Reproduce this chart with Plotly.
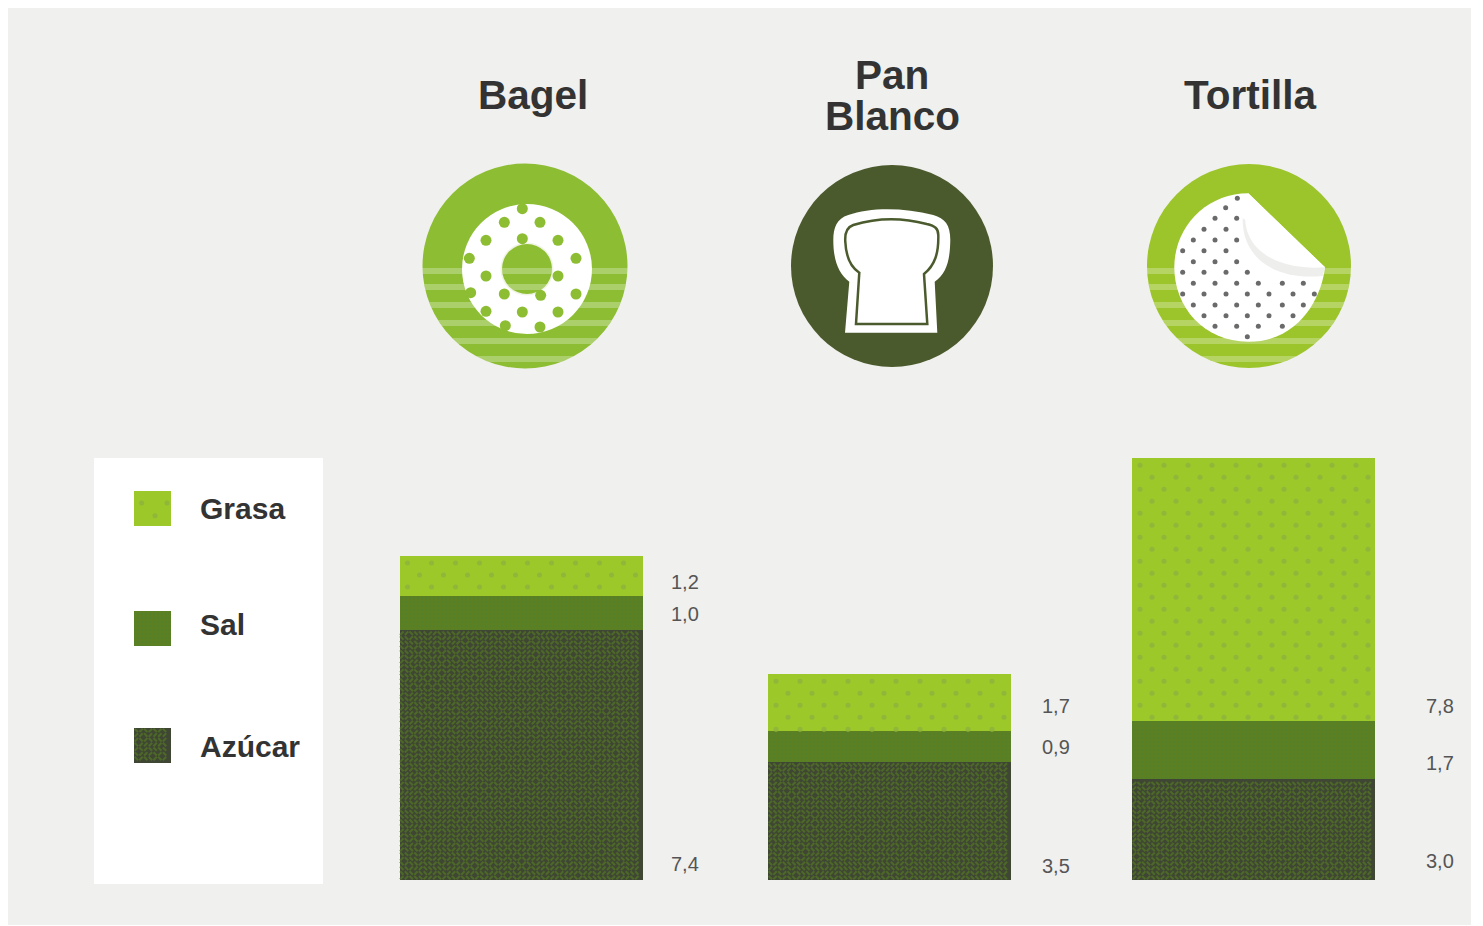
import math
import plotly.graph_objects as go

# Data
products = ["Bagel", "Pan Blanco", "Tortilla"]
azucar = [7.4, 3.5, 3.0]
sal = [1.0, 0.9, 1.7]
grasa = [1.2, 1.7, 7.8]
legend_labels = ["Grasa", "Sal", "Azúcar"]

# Page geometry, in pixels
W, H = 1483, 926
BASELINE = 880
PX_PER_UNIT = 33.76
BAR_CENTRES = [521, 889.5, 1253.5]
BAR_WIDTH = 243

GRASA_C, SAL_C, AZUCAR_C = "#9dc82a", "#5c7f22", "#3f4634"
GRASA_DOT, AZUCAR_WORM = "#90b63a", "#4d6829"
FONT = "Liberation Sans"
TEXT = "#333333"

sal_pat = dict(shape=".", size=4, solidity=0.3, fgcolor="#54802a", bgcolor=SAL_C, fillmode="replace")

fig = go.Figure()

# Stacked bars on the value axis
for name, vals, col, pat in [
    ("Azúcar", azucar, AZUCAR_C, None),
    ("Sal", sal, SAL_C, sal_pat),
    ("Grasa", grasa, GRASA_C, None),
]:
    marker = dict(color=col, line_width=0)
    if pat:
        marker["pattern"] = pat
    fig.add_trace(go.Bar(x=BAR_CENTRES, y=vals, name=name, width=BAR_WIDTH,
                         marker=marker, hovertext=products, showlegend=False))

# Legend swatches, on the pixel axis y2
SWATCH_W, SWATCH_H = 37, 34.5
swatch_tops = [491, 611, 728]
for i, (name, col, top) in enumerate(zip(legend_labels, [GRASA_C, SAL_C, AZUCAR_C], swatch_tops)):
    marker = dict(color=col, line_width=0)
    if name == "Sal":
        marker["pattern"] = sal_pat
    fig.add_trace(go.Bar(x=[152.5 + i * 0.01], y=[SWATCH_H], base=[top], width=SWATCH_W, yaxis="y2",
                         name=name, marker=marker, showlegend=False))


def worm_tile(i, j):
    # Deterministic choice of diagonal for one cell of the maze fill
    return int(abs(math.sin(i * 12.9898 + j * 78.233)) * 43758.5453) % 2


def maze(x0, x1, y0, y1, cell_x, cell_y, trim=0.14):
    # Short broken diagonals, one per cell, that read as a wormy texture
    xs, ys = [], []
    nx, ny = int((x1 - x0) / cell_x), int((y1 - y0) / cell_y)
    for i in range(nx):
        for j in range(ny):
            ax, bx = x0 + (i + trim) * cell_x, x0 + (i + 1 - trim) * cell_x
            ay, by = y0 + (j + trim) * cell_y, y0 + (j + 1 - trim) * cell_y
            if worm_tile(i + int(x0), j + int(abs(y0))):
                ay, by = by, ay
            xs += [ax, bx, None]
            ys += [ay, by, None]
    return xs, ys


CELL = 4.7
WORM_W = 2.1
worm_x, worm_y = [], []
for c, v in zip(BAR_CENTRES, azucar):
    a, b = maze(c - BAR_WIDTH / 2, c + BAR_WIDTH / 2, 0.0, v, CELL, CELL / PX_PER_UNIT)
    worm_x += a
    worm_y += b
fig.add_trace(go.Scatter(x=worm_x, y=worm_y, mode="lines", hoverinfo="skip", showlegend=False,
                         line=dict(color=AZUCAR_WORM, width=WORM_W)))
a, b = maze(134, 134 + SWATCH_W, swatch_tops[2], swatch_tops[2] + SWATCH_H, CELL, CELL)
fig.add_trace(go.Scatter(x=a, y=b, yaxis="y2", mode="lines", hoverinfo="skip", showlegend=False,
                         line=dict(color=AZUCAR_WORM, width=WORM_W)))

# Staggered speckle on the fat segments
DOT_DX, DOT_DY = 24, 12
dot_x, dot_y = [], []
for c, base, top in zip(BAR_CENTRES, [a_ + s for a_, s in zip(azucar, sal)], grasa):
    left = c - BAR_WIDTH / 2
    row = 0
    y_px = DOT_DY * 0.6
    while y_px < top * PX_PER_UNIT:
        x_px = 8 + (DOT_DX / 2 if row % 2 else 0)
        while x_px < BAR_WIDTH - 3:
            dot_x.append(left + x_px)
            dot_y.append(base + top - y_px / PX_PER_UNIT)
            x_px += DOT_DX
        row += 1
        y_px += DOT_DY
fig.add_trace(go.Scatter(x=dot_x, y=dot_y, mode="markers", hoverinfo="skip", showlegend=False,
                         marker=dict(size=5, color=GRASA_DOT)))
fig.add_trace(go.Scatter(x=[141.7, 167, 155], y=[503, 503, 515.7], yaxis="y2", mode="markers", hoverinfo="skip",
                         showlegend=False, marker=dict(size=5, color=GRASA_DOT)))

shapes = []


def rect(x0, y0, x1, y1, color):
    shapes.append(dict(type="rect", xref="x", yref="y2", x0=x0, y0=y0, x1=x1, y1=y1,
                       fillcolor=color, line_width=0, layer="below"))


def disc(cx, cy, r, color):
    shapes.append(dict(type="circle", xref="x", yref="y2", x0=cx - r, y0=cy - r, x1=cx + r, y1=cy + r,
                       fillcolor=color, line_width=0, layer="below"))


def outline(d, color, stroke=None, stroke_w=0):
    shapes.append(dict(type="path", xref="x", yref="y2", path=d, fillcolor=color,
                       line=dict(color=stroke or color, width=stroke_w), layer="below"))


def band(cx, cy, r, y0, y1):
    # Horizontal pale strip clipped to a circle
    pts = []
    n = 12
    for k in range(n + 1):
        y = y0 + (y1 - y0) * k / n
        pts.append((cx + math.sqrt(max(r * r - (y - cy) ** 2, 0)), y))
    for k in range(n, -1, -1):
        y = y0 + (y1 - y0) * k / n
        pts.append((cx - math.sqrt(max(r * r - (y - cy) ** 2, 0)), y))
    d = "M " + " L ".join(f"{a:.1f},{b:.1f}" for a, b in pts) + " Z"
    shapes.append(dict(type="path", xref="x", yref="y2", path=d, fillcolor="rgba(255,255,255,0.27)",
                       line_width=0, layer="below"))


def grid_path(origin, cmds):
    # Icon outlines are drawn on a grid of three units per pixel
    ox, oy = origin
    out = []
    for c in cmds:
        if isinstance(c, str):
            out.append(c)
        else:
            out.append(f"{ox + c[0] / 3:.1f},{oy + c[1] / 3:.1f}")
    return " ".join(out)


# Background panels
rect(8, 8, 1471, 925, "#f0f0ee")
rect(94, 458, 323, 884, "#ffffff")

STRIPES = [271, 287, 305, 323, 341, 359]

# Bagel icon
disc(525, 266, 102.5, "#8dbd33")
for s in STRIPES:
    band(525, 266, 102.5, s - 3, s + 3)
disc(527, 269, 65, "#ffffff")
disc(527, 269, 26.5, "#f0f4e4")
disc(527, 269, 25, "#8dbd33")
for s in STRIPES[:2]:
    band(527, 269, 25, s - 3, s + 3)

# Loaf icon
disc(892, 266, 101, "#4a5a2c")
bread = (770, 150)
outline(grid_path(bread, ["M", (225, 548), "L", (502, 548), "L", (494, 395), "C", (530, 370), (540, 330), (541, 270),
                          "C", (541, 225), (525, 205), (490, 195), "C", (400, 172), (300, 172), (235, 195),
                          "C", (200, 205), (190, 235), (190, 270), "C", (190, 330), (205, 370), (238, 395), "Z"]),
        "#ffffff")
outline(grid_path(bread, ["M", (258, 522), "L", (472, 522), "L", (462, 372), "C", (495, 345), (506, 310), (505, 255),
                          "C", (505, 235), (495, 228), (470, 222), "C", (400, 203), (320, 203), (250, 225),
                          "C", (230, 232), (224, 250), (226, 275), "C", (228, 320), (240, 350), (268, 368), "Z"]),
        "#ffffff", "#4b5b2d", 2.5)

# Tortilla icon: the disc peels back at its upper right
tort = (1130, 150)
disc(1249, 266, 102, "#9cc42b")
for s in STRIPES:
    band(1249, 266, 102, s - 3, s + 3)
outline(grid_path(tort, ["M", (355, 130), "L", (585, 352), "C", (575, 440), (510, 575), (355, 575),
                         "C", (220, 575), (133, 470), (133, 352), "C", (133, 230), (230, 130), (355, 130), "Z"]),
        "#ffffff")
outline(grid_path(tort, ["M", (338, 205), "C", (335, 320), (430, 392), (578, 378), "L", (585, 352),
                         "L", (400, 240), "Z"]), "#eeeeec")
outline(grid_path(tort, ["M", (355, 130), "L", (585, 352), "C", (470, 360), (350, 320), (345, 205),
                         "C", (345, 170), (345, 150), (355, 130), "Z"]), "#ffffff")

# Dots printed on the icons, in the same three-per-pixel grid
bagel_dots = [(313, 217), (420, 217), (258, 271), (474, 271), (367, 266), (528, 325), (208, 325), (258, 378), (474, 378),
              (313, 432), (422, 436), (528, 432), (212, 428), (258, 484), (367, 486), (474, 486), (420, 531), (316, 527),
              (367, 176)]
tortilla_dots = [(322, 145), (287, 173), (255, 205), (320, 205), (222, 238), (288, 238), (190, 270), (255, 270), (320, 270),
                 (158, 302), (222, 302), (288, 302), (190, 335), (255, 335), (320, 335),
                 (158, 367), (222, 367), (288, 367), (352, 367),
                 (190, 400), (255, 400), (320, 400), (385, 400), (457, 400), (520, 400),
                 (158, 432), (222, 432), (288, 432), (352, 432), (417, 432), (489, 432), (553, 432),
                 (190, 465), (255, 465), (320, 465), (385, 465), (457, 465), (520, 465),
                 (222, 497), (288, 497), (352, 497), (417, 497), (489, 497),
                 (255, 529), (320, 529), (385, 529), (457, 529), (352, 560)]

fig.add_trace(go.Scatter(x=[400 + p[0] / 3 for p in bagel_dots], y=[150 + p[1] / 3 for p in bagel_dots],
                         mode="markers", yaxis="y2", marker=dict(size=11, color="#8dbd33"), showlegend=False))
fig.add_trace(go.Scatter(x=[1130 + p[0] / 3 for p in tortilla_dots], y=[150 + p[1] / 3 for p in tortilla_dots],
                         mode="markers", yaxis="y2", marker=dict(size=5, color="#6a6a6a"), showlegend=False))

annotations = []


def label(x, y, text, size, color=TEXT, anchor="left", bold=False):
    annotations.append(dict(xref="x", yref="y2", x=x, y=y, text=f"<b>{text}</b>" if bold else text,
                            showarrow=False, xanchor=anchor, yanchor="middle",
                            font=dict(family=FONT, size=size, color=color)))


def fmt(v):
    return f"{v:.1f}".replace(".", ",")


# Column headings
label(533, 95, "Bagel", 40.5, anchor="center", bold=True)
label(892, 75, products[1].split()[0], 40.5, anchor="center", bold=True)
label(892, 116, products[1].split()[1], 40.5, anchor="center", bold=True)
label(1250, 95, "Tortilla", 40.5, anchor="center", bold=True)

# Legend text
for name, y in zip(legend_labels, [508, 624, 746]):
    label(198, y, name, 30, bold=True)

# Value labels
for x, vals, ys in [
    (669, [grasa[0], sal[0], azucar[0]], [582, 614, 864]),
    (1040, [grasa[1], sal[1], azucar[1]], [706, 747, 866]),
    (1424, [grasa[2], sal[2], azucar[2]], [706, 763, 861]),
]:
    for v, y in zip(vals, ys):
        label(x, y, fmt(v), 20, color="#555555")

fig.update_layout(
    width=W, height=H, margin=dict(l=0, r=0, t=0, b=0),
    paper_bgcolor="#ffffff", plot_bgcolor="rgba(0,0,0,0)",
    barmode="stack", bargap=0, showlegend=False,
    xaxis=dict(range=[0, W], visible=False, fixedrange=True),
    yaxis=dict(range=[(BASELINE - H) / PX_PER_UNIT, BASELINE / PX_PER_UNIT], visible=False, fixedrange=True),
    yaxis2=dict(range=[H, 0], overlaying="y", visible=False, fixedrange=True),
    shapes=shapes, annotations=annotations,
)

fig.write_html("out.html", config={"displayModeBar": False})
